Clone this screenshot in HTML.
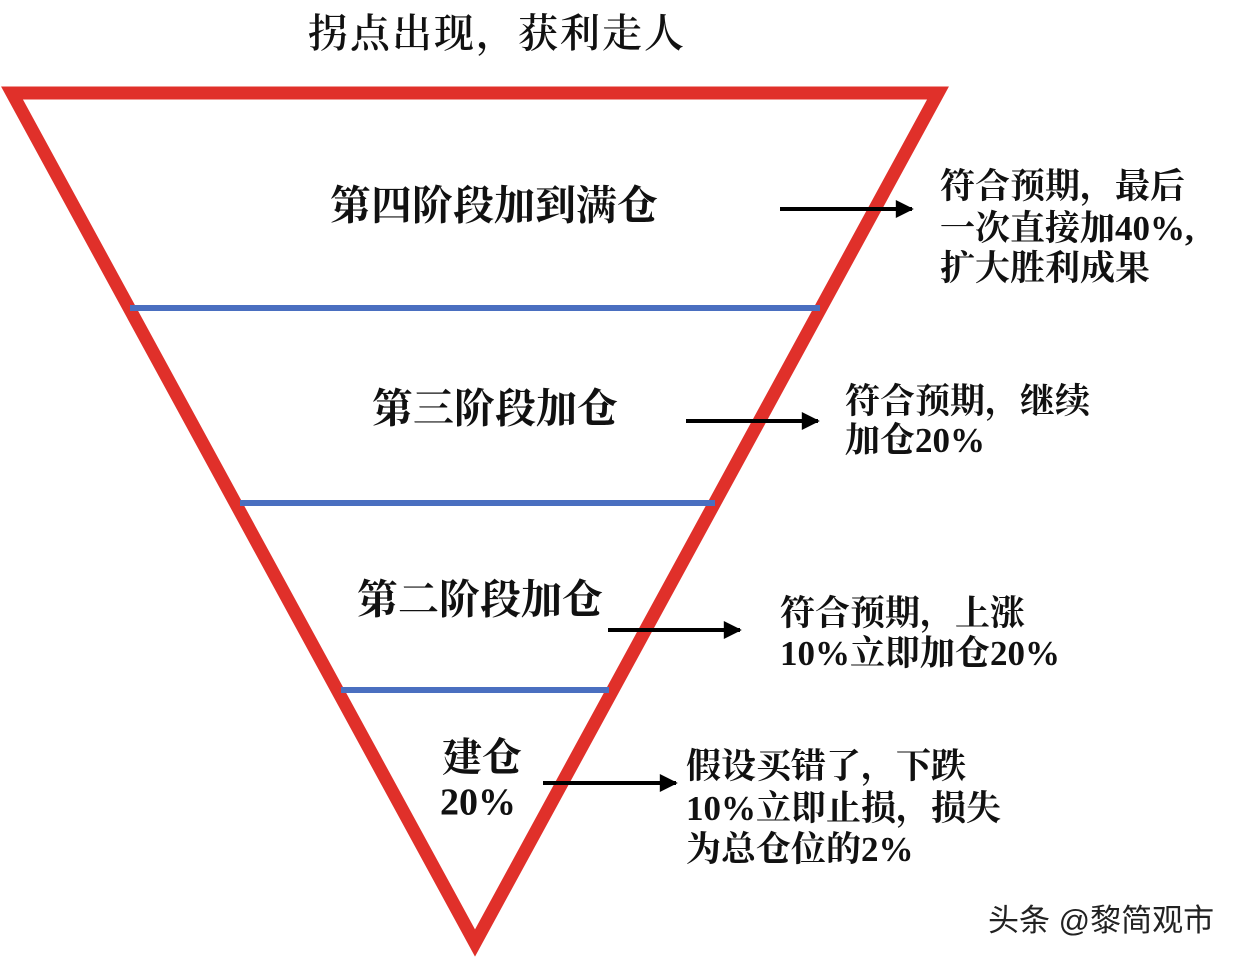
<!DOCTYPE html>
<html><head><meta charset="utf-8"><style>
html,body{margin:0;padding:0;background:#fff;}
svg{display:block;}
.t{font-family:"Liberation Serif","Noto Serif CJK SC",serif;font-weight:bold;fill:#111;dominant-baseline:middle;}
</style></head><body>
<svg width="1241" height="968" viewBox="0 0 1241 968" xmlns="http://www.w3.org/2000/svg">
<defs>
<marker id="b" viewBox="0 0 10 10" markerWidth="20" markerHeight="18" refX="9" refY="5" orient="auto" markerUnits="userSpaceOnUse"><path d="M0,0 L10,5 L0,10 Z" fill="#000"/></marker></defs>
<text x="308" y="38" font-size="40" letter-spacing="2" fill="#111" style="font-family:'Liberation Serif','Noto Serif CJK SC',serif;font-weight:600;dominant-baseline:middle">拐点出现，获利走人</text>
<polygon points="12,93 938,93 475,943" fill="none" stroke="#e0302a" stroke-width="13" stroke-linejoin="miter"/>
<line x1="130" y1="308" x2="820" y2="308" stroke="#4a6fc0" stroke-width="6"/>
<line x1="240" y1="503" x2="715" y2="503" stroke="#4a6fc0" stroke-width="6"/>
<line x1="341" y1="690" x2="609" y2="690" stroke="#4a6fc0" stroke-width="6"/>
<text class="t" x="330" y="210" font-size="41">第四阶段加到满仓</text>
<text class="t" x="372" y="413" font-size="41">第三阶段加仓</text>
<text class="t" x="357" y="604" font-size="41">第二阶段加仓</text>
<text class="t" x="442" y="762" font-size="40">建仓</text>
<text class="t" x="440" y="806" font-size="38">20%</text>
<g stroke="#000" stroke-width="4" marker-end="url(#b)">
<line x1="780" y1="209" x2="912" y2="209"/>
<line x1="686" y1="421" x2="818" y2="421"/>
<line x1="608" y1="630" x2="740" y2="630"/>
<line x1="543" y1="783" x2="676" y2="783"/>
</g>
<text class="t" x="940" y="190" font-size="35">符合预期，最后</text>
<text class="t" x="940" y="232" font-size="35">一次直接加40%,</text>
<text class="t" x="940" y="272" font-size="35">扩大胜利成果</text>
<text class="t" x="845" y="405" font-size="35">符合预期，继续</text>
<text class="t" x="845" y="444" font-size="35">加仓20%</text>
<text class="t" x="780" y="617" font-size="35">符合预期，上涨</text>
<text class="t" x="780" y="657" font-size="35">10%立即加仓20%</text>
<text class="t" x="686" y="770" font-size="35">假设买错了，下跌</text>
<text class="t" x="686" y="812" font-size="35">10%立即止损，损失</text>
<text class="t" x="686" y="853" font-size="35">为总仓位的2%</text>
<text x="988" y="923" font-size="31" fill="#222" style="font-family:'Liberation Sans','Noto Sans CJK SC',sans-serif;dominant-baseline:middle">头条 @黎简观市</text>
</svg>
</body></html>
